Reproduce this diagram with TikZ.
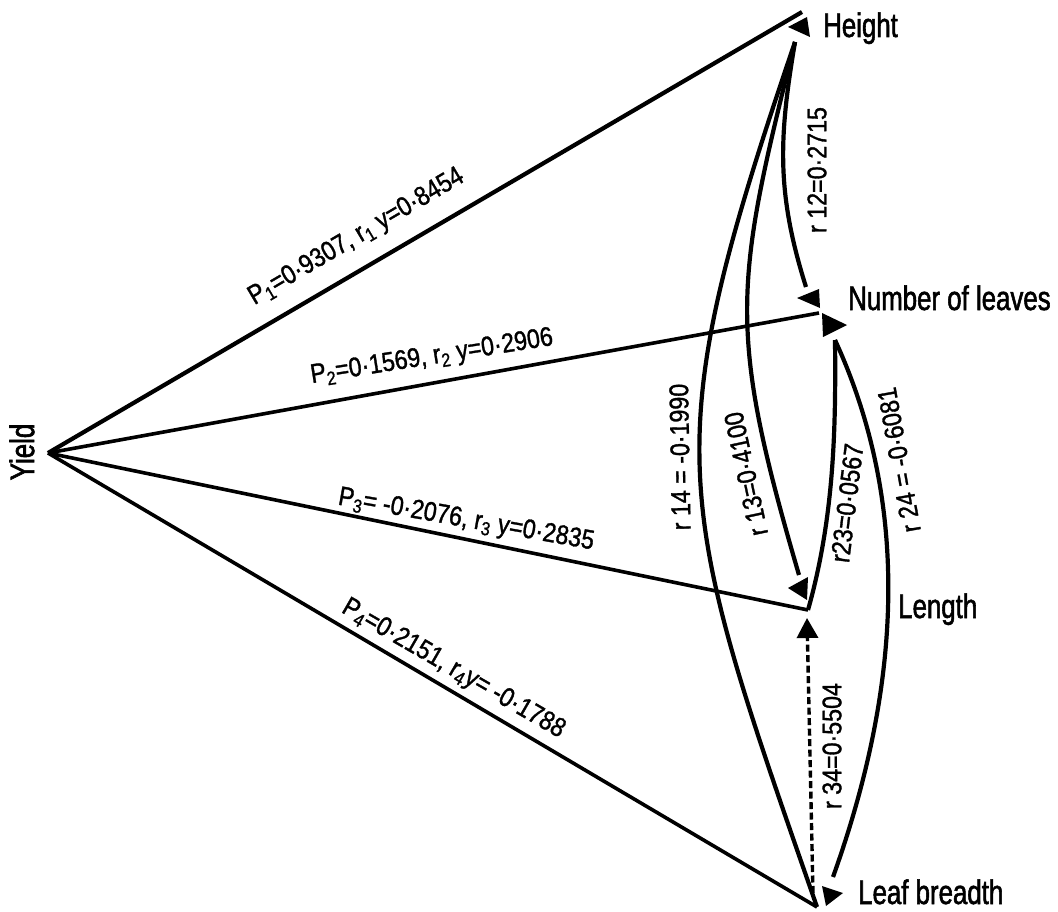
\documentclass[tikz,border=0pt]{standalone}
\usepackage{fontspec}
\setmainfont{Liberation Sans}
\newfontfamily\nodefont{Liberation Sans}[FakeStretch=0.76,FakeBold=1.6]
\newfontfamily\labfont{Liberation Sans}[FakeStretch=0.86,FakeBold=1.2]
\usetikzlibrary{arrows.meta}
\begin{document}
\begin{tikzpicture}[x=1pt,y=-1pt,
  conn/.style={line width=4.2pt},
  thinconn/.style={line width=3.6pt},
  tipc/.style={fill=black},
  nlab/.style={font=\nodefont\fontsize{34}{40}\selectfont, inner sep=0pt},
  elab/.style={font=\labfont\fontsize{27}{32}\selectfont, inner sep=0pt},
]
\useasboundingbox (0,0) rectangle (1058,912);
\fill[white] (0,0) rectangle (1058,912);

% points
\coordinate (Y) at (48,453);
\coordinate (H) at (795,42);
\coordinate (Ht) at (802,12);
\coordinate (N) at (819,313);
\coordinate (Nt) at (806,287);
\coordinate (Ntop) at (835,340);
\coordinate (L) at (808,610);
\coordinate (Lt) at (799,575);
\coordinate (Lb) at (807,618);
\coordinate (B) at (817,907);
\coordinate (Bt) at (833,877);
\coordinate (Bd) at (813,893);

% path coefficients
\draw[conn] (Y) -- (Ht);
\draw[thinconn] (Y) -- (N);
\draw[thinconn] (Y) -- (L);
\draw[thinconn] (Y) -- (B);

% correlations
\draw[conn] (B) .. controls (673,495) and (656,450) .. (H);
\draw[conn] (H) .. controls (734,286) and (727,329) .. (Lt);
\draw[conn] (H) .. controls (779,137) and (776,192) .. (Nt);
\draw[conn] (Ntop) .. controls (836,430) and (834,518) .. (L);
\draw[conn] (Ntop) .. controls (916,516) and (896,701) .. (Bt);
\draw[line width=3.4pt, dash pattern=on 7pt off 3.5pt, -{Triangle[length=20pt,width=21pt]}] (Bd) -- (Lb);

% arrowheads
\fill[tipc] (788,27) -- (807,17) -- (810,37) -- cycle;
\fill[tipc] (797,298) -- (819,289) -- (820,308) -- cycle;
\fill[tipc] (822,313) -- (847,325) -- (823,337) -- cycle;
\fill[tipc] (788,588) -- (808,577) -- (807,600) -- cycle;
\fill[tipc] (822,886) -- (843,893) -- (826,906) -- cycle;

% variable names
\node[nlab, rotate=90] (yield) at (22,452) {Yield};
\node[nlab, anchor=base west] (height) at (823,37) {Height};
\node[nlab, anchor=base west] (leaves) at (848,310) {Number of leaves};
\node[nlab, anchor=base west] (length) at (898,618) {Length};
\node[nlab, anchor=base west] (breadth) at (858,904) {Leaf breadth};

% path labels
\node[elab, anchor=base, rotate=30.5] (p1) at (360,243) {P\textsubscript{1}=0·9307, r\textsubscript{1} y=0·8454};
\node[elab, anchor=base, rotate=9] (p2) at (433,364) {P\textsubscript{2}=0·1569, r\textsubscript{2} y=0·2906};
\node[elab, anchor=base, rotate=-10] (p3) at (465,527) {P\textsubscript{3}= -0·2076, r\textsubscript{3} y=0·2835};
\node[elab, anchor=base, rotate=-30] (p4) at (450,675) {P\textsubscript{4}=0·2151, r\textsubscript{4}y= -0·1788};

% correlation labels
\node[elab, rotate=90] (r12) at (817,170) {r 12=0·2715};
\node[elab, rotate=91] (r14) at (680,457) {r 14 = -0·1990};
\node[elab, rotate=102] (r13) at (746,474) {r 13=0·4100};
\node[elab, rotate=83] (r23) at (847,503) {r23=0·0567};
\node[elab, rotate=100] (r24) at (899,460) {r 24 = -0·6081};
\node[elab, rotate=90] (r34) at (832,746) {r 34=0·5504};
\end{tikzpicture}
\end{document}
